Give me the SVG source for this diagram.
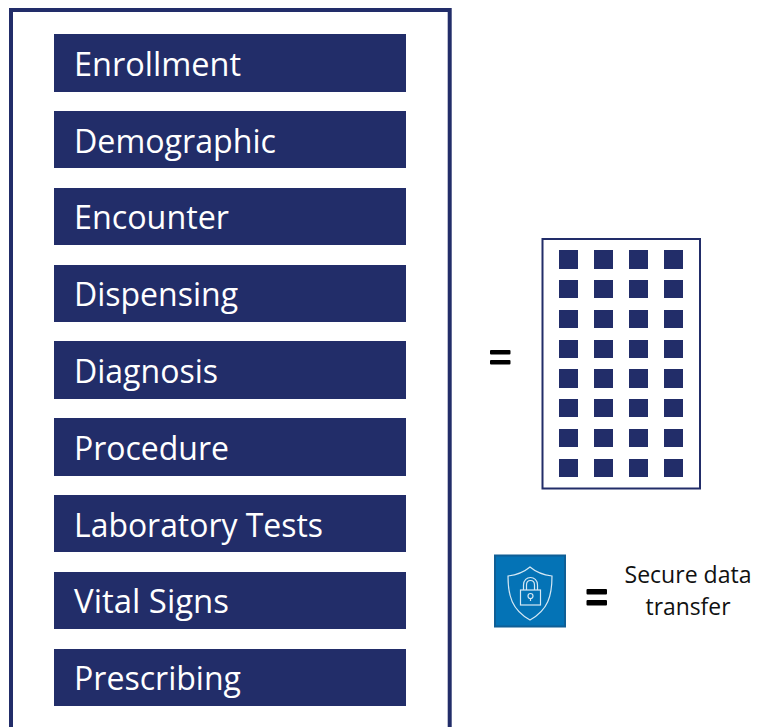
<svg xmlns="http://www.w3.org/2000/svg" width="757" height="727" viewBox="0 0 757 727">
<style>
.bar{fill:#222d69}
.lbl{font-family:"Open Sans","Noto Sans","Liberation Sans",sans-serif;font-size:32px;fill:#fff}
.cell{fill:#222d69}
.eq{fill:#000}
.cap{font-family:"Open Sans","Noto Sans","Liberation Sans",sans-serif;font-size:23px;fill:#111;text-anchor:middle}
.ic{fill:none;stroke:#d5e8f4;stroke-width:1.2}
</style>
<rect width="757" height="727" fill="#fff"/>
<path d="M11 727V10H449.700V727" fill="none" stroke="#222d69" stroke-width="4"/>
<g id="enrollment"><rect class="bar" x="54" y="34" width="352" height="58"/><text class="lbl" x="74" y="76" textLength="167" lengthAdjust="spacingAndGlyphs">Enrollment</text></g>
<g id="demographic"><rect class="bar" x="54" y="111" width="352" height="57"/><text class="lbl" x="74" y="153" textLength="202" lengthAdjust="spacingAndGlyphs">Demographic</text></g>
<g id="encounter"><rect class="bar" x="54" y="188" width="352" height="57"/><text class="lbl" x="74" y="229" textLength="155" lengthAdjust="spacingAndGlyphs">Encounter</text></g>
<g id="dispensing"><rect class="bar" x="54" y="265" width="352" height="57"/><text class="lbl" x="74" y="306" textLength="164" lengthAdjust="spacingAndGlyphs">Dispensing</text></g>
<g id="diagnosis"><rect class="bar" x="54" y="341" width="352" height="58"/><text class="lbl" x="74" y="383" textLength="144" lengthAdjust="spacingAndGlyphs">Diagnosis</text></g>
<g id="procedure"><rect class="bar" x="54" y="418" width="352" height="58"/><text class="lbl" x="74" y="460" textLength="155" lengthAdjust="spacingAndGlyphs">Procedure</text></g>
<g id="laboratory-tests"><rect class="bar" x="54" y="495" width="352" height="57"/><text class="lbl" x="74" y="537" textLength="249" lengthAdjust="spacingAndGlyphs">Laboratory Tests</text></g>
<g id="vital-signs"><rect class="bar" x="54" y="572" width="352" height="57"/><text class="lbl" x="74" y="613" textLength="155" lengthAdjust="spacingAndGlyphs">Vital Signs</text></g>
<g id="prescribing"><rect class="bar" x="54" y="649" width="352" height="57"/><text class="lbl" x="74" y="690" textLength="167" lengthAdjust="spacingAndGlyphs">Prescribing</text></g>
<g id="equals-table"><rect class="eq" x="490" y="350" width="20.500" height="4.500" rx="1"/><rect class="eq" x="490" y="360" width="20.500" height="4.500" rx="1"/></g>
<g id="table">
<rect x="542.500" y="239" width="157.500" height="249.500" fill="#fff" stroke="#222d69" stroke-width="2"/>
<g id="table-cells">
<rect class="cell" x="559" y="250" width="19" height="19"/><rect class="cell" x="594" y="250" width="19" height="19"/><rect class="cell" x="629" y="250" width="19" height="19"/><rect class="cell" x="664" y="250" width="19" height="19"/>
<rect class="cell" x="559" y="280" width="19" height="18"/><rect class="cell" x="594" y="280" width="19" height="18"/><rect class="cell" x="629" y="280" width="19" height="18"/><rect class="cell" x="664" y="280" width="19" height="18"/>
<rect class="cell" x="559" y="310" width="19" height="18"/><rect class="cell" x="594" y="310" width="19" height="18"/><rect class="cell" x="629" y="310" width="19" height="18"/><rect class="cell" x="664" y="310" width="19" height="18"/>
<rect class="cell" x="559" y="340" width="19" height="18"/><rect class="cell" x="594" y="340" width="19" height="18"/><rect class="cell" x="629" y="340" width="19" height="18"/><rect class="cell" x="664" y="340" width="19" height="18"/>
<rect class="cell" x="559" y="369" width="19" height="19"/><rect class="cell" x="594" y="369" width="19" height="19"/><rect class="cell" x="629" y="369" width="19" height="19"/><rect class="cell" x="664" y="369" width="19" height="19"/>
<rect class="cell" x="559" y="399" width="19" height="18"/><rect class="cell" x="594" y="399" width="19" height="18"/><rect class="cell" x="629" y="399" width="19" height="18"/><rect class="cell" x="664" y="399" width="19" height="18"/>
<rect class="cell" x="559" y="429" width="19" height="18"/><rect class="cell" x="594" y="429" width="19" height="18"/><rect class="cell" x="629" y="429" width="19" height="18"/><rect class="cell" x="664" y="429" width="19" height="18"/>
<rect class="cell" x="559" y="459" width="19" height="18"/><rect class="cell" x="594" y="459" width="19" height="18"/><rect class="cell" x="629" y="459" width="19" height="18"/><rect class="cell" x="664" y="459" width="19" height="18"/>
</g></g>
<g id="secure-icon">
<rect x="495" y="555.500" width="70" height="71" fill="#0473b6" stroke="#0f5f96" stroke-width="2"/>
<path class="ic" d="M530 567C537 573 544 575 552 576C552 596 548 610 530 620C512 610 508 596 508 576C516 575 523 573 530 567Z"/>
<rect class="ic" x="520.500" y="590" width="20" height="15"/>
<path class="ic" d="M523.500 590V585C523.500 575 537.500 575 537.500 585V590M526.500 590V585C526.500 579 534.500 579 534.500 585V590"/>
<circle class="ic" cx="530.500" cy="596" r="2.500"/>
<path class="ic" d="M530.500 598.500V601"/>
</g>
<g id="equals-secure"><rect class="eq" x="586.500" y="589" width="20.500" height="5.500" rx="1"/><rect class="eq" x="586.500" y="600" width="20.500" height="5.500" rx="1"/></g>
<g id="secure-caption"><text class="cap" x="688" y="583" textLength="127" lengthAdjust="spacingAndGlyphs">Secure data</text><text class="cap" x="688" y="615" textLength="85" lengthAdjust="spacingAndGlyphs">transfer</text></g>
</svg>
